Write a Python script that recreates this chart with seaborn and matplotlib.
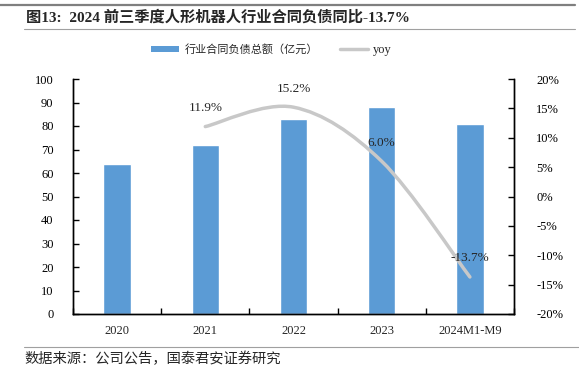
import matplotlib.pyplot as plt
import seaborn as sns
import pandas as pd
import numpy as np
from matplotlib.path import Path
from matplotlib.patches import PathPatch
from matplotlib.lines import Line2D
from matplotlib.patches import Patch

# data
categories = ["2020", "2021", "2022", "2023", "2024M1-M9"]
liabilities = [64, 72, 83, 88, 81]          # 行业合同负债总额（亿元）
yoy_cats = [1, 2, 3, 4]                      # yoy starts at 2021
yoy_values = [11.9, 15.2, 6.0, -13.7]        # %
yoy_labels = ["11.9%", "15.2%", "6.0%", "-13.7%"]

sns.set_theme(style="white")
plt.rcParams['font.family'] = ['Liberation Serif', 'Noto Sans CJK SC', 'DejaVu Sans']
cjk = ['Noto Sans CJK SC', 'DejaVu Sans']

bar_color = "#5B9BD5"
line_color = "#C8C8C8"

fig = plt.figure(figsize=(5.79, 3.79), dpi=100)
ax = fig.add_axes([73 / 579, 1 - 314 / 379, (514 - 73) / 579, (314 - 79) / 379])

df = pd.DataFrame({"cat": categories, "val": liabilities})
sns.barplot(data=df, x="cat", y="val", color=bar_color, width=0.31,
            saturation=1, ax=ax)
ax.set_xlim(-0.5, 4.5)
ax.set_ylim(0, 100)
ax.set_yticks(range(0, 101, 10))
ax.set_xlabel("")
ax.set_ylabel("")
ax.tick_params(axis="y", direction="in", length=4, width=1, labelsize=9, pad=14, colors="black")
ax.tick_params(axis="x", length=0, labelsize=9, pad=8)
# category-boundary ticks on x axis
ax.set_xticks(np.arange(-0.5, 4.6, 1), minor=True)
ax.tick_params(axis="x", which="minor", direction="in", length=4, width=1, bottom=True, colors="black")

for s in ["left", "bottom", "right"]:
    ax.spines[s].set_color("black")
    ax.spines[s].set_linewidth(1)
ax.spines["top"].set_visible(False)

# secondary axis for yoy
ax2 = ax.twinx()
ax2.set_ylim(-20, 20)
ax2.set_yticks(range(-20, 21, 5))
ax2.set_yticklabels([f"{v}%" for v in range(-20, 21, 5)])
ax2.tick_params(axis="y", direction="in", length=4, width=1, labelsize=9, pad=16, colors="black")
ax2.spines["top"].set_visible(False)
for s in ["left", "bottom", "right"]:
    ax2.spines[s].set_color("black")
    ax2.spines[s].set_linewidth(1)

# smoothed line (Bezier through the data points, like Excel smoothing)
xs = np.array(yoy_cats, dtype=float)
ys = np.array(yoy_values, dtype=float)
verts = [(xs[0], ys[0])]
codes = [Path.MOVETO]
n = len(xs)
for i in range(n - 1):
    p0 = (xs[i - 1], ys[i - 1]) if i > 0 else (xs[i], ys[i])
    p1 = (xs[i], ys[i])
    p2 = (xs[i + 1], ys[i + 1])
    p3 = (xs[i + 2], ys[i + 2]) if i + 2 < n else p2
    c1 = (p1[0] + (p2[0] - p0[0]) / 6, p1[1] + (p2[1] - p0[1]) / 6)
    c2 = (p2[0] - (p3[0] - p1[0]) / 6, p2[1] - (p3[1] - p1[1]) / 6)
    verts += [c1, c2, p2]
    codes += [Path.CURVE4] * 3
ax2.add_patch(PathPatch(Path(verts, codes), facecolor="none", edgecolor=line_color,
                        lw=2.5, capstyle="round", transform=ax2.transData))

for x, y, lab in zip(yoy_cats, yoy_values, yoy_labels):
    ax2.annotate(lab, (x, y), xytext=(0, 9), textcoords="offset points",
                 ha="center", va="bottom", fontsize=9.5)

# legend
handles = [Patch(facecolor=bar_color, edgecolor="none"),
           Line2D([0], [0], color=line_color, lw=2.5)]
leg = fig.legend(handles, ["行业合同负债总额（亿元）", "yoy"], loc="center",
                 bbox_to_anchor=(271.5 / 579, 1 - 50 / 379), ncol=2, frameon=False,
                 handlelength=2.5, handleheight=0.5, handletextpad=0.5,
                 columnspacing=2.0, prop={"family": cjk, "size": 8})
for t in leg.get_texts():
    if t.get_text() == "yoy":
        t.set_fontfamily("Liberation Serif")
        t.set_fontsize(9)

# title, source and rule lines
fig.text(26 / 579, 1 - 17 / 379, "图13:  2024 前三季度人形机器人行业合同负债同比-13.7%",
         fontsize=11, fontweight="bold", va="center", ha="left",
         family=['Liberation Serif', 'Noto Sans CJK SC'])
fig.add_artist(Line2D([0, 575 / 579], [1 - 4.5 / 379, 1 - 4.5 / 379], color="#7F7F7F", lw=1.6))
fig.add_artist(Line2D([24 / 579, 575 / 579], [1 - 28.5 / 379, 1 - 28.5 / 379], color="#A0A0A0", lw=0.8))
fig.add_artist(Line2D([24 / 579, 1], [1 - 347 / 379, 1 - 347 / 379], color="#A0A0A0", lw=0.8))
fig.text(24 / 579, 1 - 359 / 379, "数据来源：公司公告，国泰君安证券研究",
         fontsize=10.3, va="center", ha="left", family=cjk)

fig.savefig("out.png", dpi=100)
